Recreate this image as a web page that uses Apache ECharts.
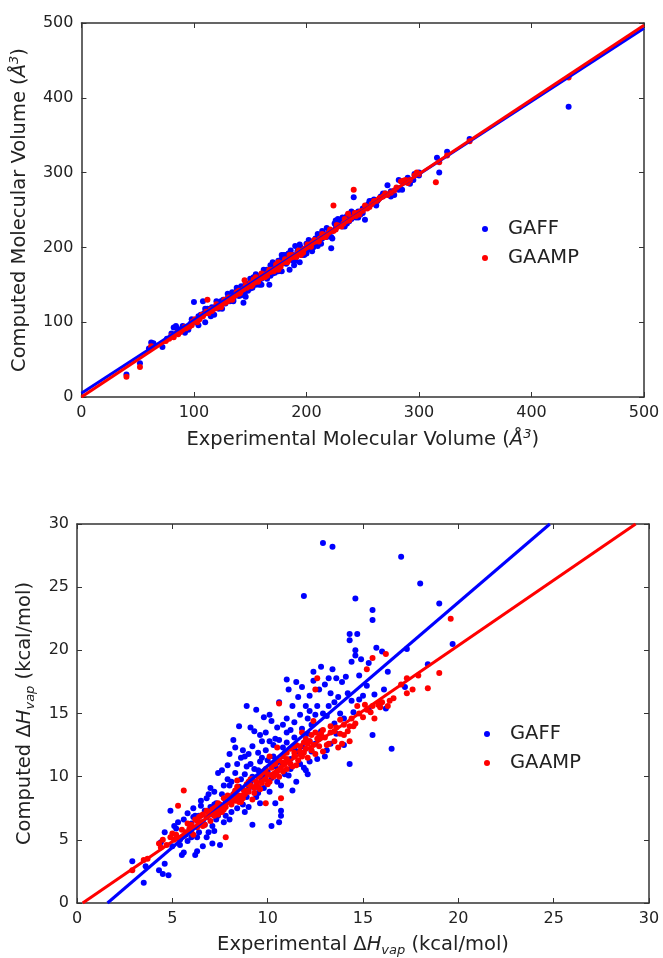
<!DOCTYPE html>
<html>
<head>
<meta charset="utf-8">
<script src="https://cdn.jsdelivr.net/npm/echarts@6/dist/echarts.min.js"></script>
<style>
html,body{margin:0;padding:0;background:#fff;}
#chart{width:663px;height:958px;}
</style>
</head>
<body>
<div id="chart"></div>
<script>
// ---------- Data: top panel (molecular volume, Å^3) ----------
var volTicks = [0, 100, 200, 300, 400, 500];
var volGaff = [[40,30],[52,45],[60,65],[62,73],[64,72],[72,67],[76,78],[80,85],[82,93],[84,95],[86,88],[88,90],[90,95],[92,92],[95,90],[97,98],[100,127],[102,100],[104,96],[106,110],[108,128],[109,112],[110,100],[112,118],[114,115],[116,120],[118,110],[120,122],[122,118],[124,128],[126,130],[128,125],[130,132],[132,128],[134,140],[136,135],[138,142],[140,135],[142,148],[144,126],[145,138],[146,134],[148,150],[150,145],[152,155],[153,160],[155,150],[156,162],[158,155],[160,158],[162,165],[164,160],[165,170],[167,150],[168,162],[170,180],[171,168],[172,175],[174,172],[175,182],[176,178],[178,168],[179,185],[180,190],[182,178],[183,186],[184,192],[185,170],[186,184],[188,190],[189,176],[190,202],[191,188],[192,195],[194,180],[195,200],[196,190],[198,196],[200,205],[202,198],[204,208],[205,195],[206,204],[208,212],[210,210],[212,216],[213,205],[214,212],[216,218],[218,214],[220,222],[222,199],[223,212],[225,232],[226,226],[228,238],[229,230],[230,236],[232,240],[234,228],[236,242],[238,235],[240,238],[241,246],[242,267],[244,240],[246,248],[248,244],[250,246],[252,237],[255,258],[258,262],[260,264],[263,262],[266,268],[270,272],[272,283],[275,275],[278,270],[282,277],[285,277],[287,288],[290,293],[292,285],[296,298],[300,300],[316,320],[318,300],[325,328],[345,345],[433,388],[135,130],[150,158],[160,150],[170,165],[178,190],[188,182],[200,192],[210,218],
  [85,92],[92,86],[98,104],[104,108],[110,118],[115,108],[120,128],[125,118],[130,138],[135,128],[138,146],[142,136],[146,152],[148,142],[152,146],[155,164],[158,150],[162,170],[165,158],[168,176],[172,166],[175,168],[178,184],[182,190],[186,196],[190,182],[194,204],[198,190],[202,210],[206,200],[210,202],[214,222],[218,226],[222,214],[226,236],[232,228],[236,232],[240,248],[246,240],[250,252],[256,262],[262,256],[268,272],[275,268],[282,290],[295,290],[300,296]];
var volGaamp = [[40,27],[52,40],[62,68],[75,75],[78,78],[80,82],[85,86],[88,87],[90,90],[93,92],[96,94],[99,101],[101,104],[105,104],[108,108],[112,130],[113,112],[116,115],[118,118],[120,119],[123,122],[125,124],[128,126],[130,128],[132,131],[135,134],[137,136],[140,138],[142,142],[144,144],[145,156],[147,146],[149,148],[150,152],[152,150],[154,153],[156,156],[158,158],[160,159],[162,161],[164,164],[166,166],[168,167],[170,170],[172,171],[174,174],[176,175],[178,178],[180,180],[182,181],[184,183],[186,186],[188,187],[190,189],[192,192],[194,194],[196,195],[198,198],[200,200],[203,202],[205,206],[208,208],[210,209],[212,212],[215,214],[218,217],[220,220],[222,222],[224,256],[226,224],[228,228],[230,229],[233,232],[235,235],[237,245],[240,240],[242,277],[244,242],[246,246],[248,248],[250,249],[254,252],[258,258],[262,262],[265,266],[268,268],[272,270],[275,273],[280,280],[284,288],[288,290],[292,290],[296,296],[300,298],[315,287],[318,314],[325,323],[345,342],[433,427],[155,160],[165,162],[175,170],[185,190],[195,190],[175,180],[160,165],[140,142],
  [82,80],[86,84],[92,94],[98,96],[103,100],[107,110],[111,114],[115,117],[120,124],[124,120],[127,130],[131,133],[134,130],[138,140],[141,139],[146,149],[151,148],[153,157],[157,154],[161,163],[163,160],[167,170],[171,168],[173,177],[177,174],[181,184],[183,180],[187,190],[191,187],[193,196],[197,193],[201,204],[204,201],[207,210],[211,208],[214,218],[217,214],[221,224],[224,222],[227,230],[231,228],[234,238],[238,236],[243,246],[247,244],[252,256],[256,254],[260,262],[264,264],[270,272],[278,276],[286,289],[290,286],[298,300]];
var volGaffFit = [[0,5],[500,493]];
var volGaampFit = [[0,0],[500,497]];

// ---------- Data: bottom panel (ΔHvap, kcal/mol) ----------
var hvapTicks = [0, 5, 10, 15, 20, 25, 30];
var hvapGaff = [[2.9,3.3],[3.5,1.6],[3.6,2.9],[4.3,2.6],[4.4,4.8],[4.5,2.3],[4.6,3.1],[4.8,2.2],[4.6,5.6],[4.9,7.3],[5.0,4.5],[5.2,5.9],[5.3,6.4],[5.4,5.0],[5.5,3.8],[5.6,4.0],[5.6,6.6],[5.7,5.4],[5.8,7.1],[5.9,5.8],[6.0,6.3],[6.1,7.5],[6.2,3.8],[6.3,4.1],[6.3,5.2],[6.4,6.9],[6.5,7.7],[6.6,4.5],[6.7,6.2],[6.8,8.3],[6.9,5.6],[7.0,7.0],[7.1,4.7],[7.2,5.7],[7.2,8.8],[7.3,6.6],[7.4,10.3],[7.5,4.6],[7.5,7.5],[7.6,10.5],[7.7,6.4],[7.8,8.0],[7.9,9.8],[8.0,6.6],[8.1,7.2],[8.2,12.9],[8.3,8.8],[8.4,11.0],[8.5,14.0],[8.5,9.2],[8.6,11.5],[8.7,7.8],[8.8,10.2],[8.9,15.6],[8.9,8.4],[9.0,11.8],[9.1,9.5],[9.2,12.4],[9.2,6.2],[9.3,10.6],[9.4,15.3],[9.5,8.7],[9.6,13.3],[9.6,11.2],[9.7,9.8],[9.8,14.7],[9.9,12.1],[10.0,10.4],[10.1,8.8],[10.2,14.4],[10.2,6.1],[10.3,11.6],[10.4,13.0],[10.5,13.9],[10.5,9.6],[10.6,15.9],[10.6,6.4],[10.7,6.9],[10.7,7.3],[10.8,12.3],[10.9,10.2],[11.0,17.7],[11.0,14.6],[11.1,16.9],[11.2,11.4],[11.3,15.6],[11.4,13.1],[11.5,17.5],[11.5,9.6],[11.6,12.0],[11.7,14.9],[11.8,17.1],[11.9,24.3],[11.9,10.7],[12.0,15.6],[12.1,13.4],[12.2,11.2],[12.3,14.1],[12.4,18.3],[12.4,17.6],[12.5,12.6],[12.6,15.6],[12.7,16.9],[12.8,18.7],[12.8,13.6],[12.9,28.5],[13.0,11.6],[13.1,14.8],[13.2,15.6],[13.2,17.8],[13.3,12.6],[13.4,28.2],[13.4,18.5],[13.5,15.9],[13.6,17.8],[13.6,13.4],[13.7,16.3],[13.9,17.5],[14.0,14.6],[14.2,16.6],[14.3,11.0],[14.3,21.3],[14.3,20.8],[14.4,19.1],[14.5,15.1],[14.6,24.1],[14.6,20.0],[14.6,19.6],[14.7,21.3],[14.8,16.1],[14.9,19.3],[15.2,17.2],[15.3,15.3],[15.5,23.2],[15.5,22.4],[15.5,13.3],[15.6,16.5],[15.7,20.2],[15.9,15.8],[16.0,19.9],[16.3,18.3],[16.2,15.4],[16.5,12.2],[17.0,27.4],[17.2,17.1],[17.3,20.1],[18.0,25.3],[18.4,18.9],[19.0,23.7],[19.7,20.5],[8.2,8.6],[8.6,8.2],[9.0,9.0],[9.4,9.2],[9.8,10.2],[10.4,10.8],[10.8,11.0],[11.2,10.6],[11.8,12.4],[12.2,12.8],[7.0,7.6],[6.6,6.4],[7.6,8.6],[9.1,13.9],[9.7,11.5],[10.1,12.8],[8.0,9.3],[8.8,11.6],[12.1,10.2],[11.4,14.3],
  [5.1,6.1],[5.4,4.6],[5.8,4.9],[6.0,5.2],[6.2,6.9],[6.4,5.6],[6.5,8.1],[6.7,7.3],[6.8,5.2],[6.9,8.6],[7.0,9.1],[7.1,6.1],[7.3,7.9],[7.4,6.9],[7.6,7.7],[7.7,9.3],[7.8,6.9],[7.9,10.9],[8.0,11.8],[8.1,9.6],[8.3,10.3],[8.4,7.5],[8.6,9.8],[8.7,12.1],[8.8,7.2],[8.9,10.8],[9.0,7.6],[9.1,11.0],[9.2,10.0],[9.3,13.6],[9.4,8.4],[9.5,11.9],[9.6,7.9],[9.7,12.8],[9.8,9.1],[9.9,13.5],[10.0,11.3],[10.1,14.9],[10.2,9.9],[10.3,12.5],[10.4,7.9],[10.5,11.1],[10.6,12.9],[10.7,9.3],[10.8,14.1],[10.9,11.9],[11.0,12.7],[11.1,10.1],[11.2,13.7],[11.3,8.9],[11.4,12.2],[11.6,16.3],[11.7,11.0],[11.8,13.8],[12.0,10.5],[12.1,14.6],[12.2,16.4],[12.3,12.0],[12.5,14.9],[12.6,11.4],[12.7,13.0],[12.9,15.0],[13.0,17.3],[13.1,12.1],[13.3,16.6],[13.5,14.2],[13.8,15.0],[14.0,12.5],[14.1,17.9],[14.4,16.0],[14.8,18.0],[15.0,16.4],[15.3,19.0],[16.1,16.9],[12.2,15.2],[11.0,13.5],[9.5,10.5],[8.3,12.3],[7.2,7.8],[6.1,6.8]];
var hvapGaamp = [[2.9,2.6],[3.5,3.4],[3.7,3.5],[4.3,4.7],[4.4,4.4],[4.5,5.0],[4.7,4.6],[4.9,5.2],[5.0,5.5],[5.2,5.4],[5.3,7.7],[5.4,5.1],[5.5,5.8],[5.6,8.9],[5.7,5.6],[5.9,5.9],[6.0,6.2],[6.1,5.4],[6.2,6.6],[6.3,6.0],[6.4,6.8],[6.5,6.4],[6.6,7.0],[6.7,6.2],[6.8,6.8],[6.9,7.2],[7.0,6.5],[7.1,7.4],[7.2,6.9],[7.3,7.6],[7.4,7.0],[7.5,7.8],[7.6,7.2],[7.7,8.3],[7.8,5.2],[7.8,7.6],[7.9,8.0],[8.0,8.3],[8.1,7.8],[8.2,8.6],[8.3,8.1],[8.4,9.2],[8.5,8.5],[8.6,8.0],[8.7,9.0],[8.8,8.6],[8.9,9.4],[9.0,8.8],[9.1,9.3],[9.2,9.8],[9.3,8.7],[9.4,9.6],[9.5,9.2],[9.6,10.1],[9.7,9.5],[9.8,10.4],[9.9,7.9],[9.9,9.8],[10.0,10.2],[10.1,9.6],[10.2,10.7],[10.3,10.0],[10.4,11.0],[10.5,10.4],[10.6,15.8],[10.6,11.3],[10.7,8.3],[10.7,10.7],[10.8,11.6],[10.9,11.0],[11.0,11.9],[11.1,11.2],[11.2,12.2],[11.3,10.8],[11.4,11.6],[11.5,12.5],[11.6,11.3],[11.7,12.0],[11.8,11.6],[11.9,12.7],[12.0,12.2],[12.1,11.5],[12.2,12.8],[12.3,13.3],[12.4,12.5],[12.5,16.9],[12.5,11.8],[12.6,17.8],[12.6,13.0],[12.7,12.4],[12.8,13.4],[12.9,12.0],[13.0,13.1],[13.2,12.6],[13.3,13.5],[13.5,12.8],[13.6,13.9],[13.7,12.3],[13.8,13.4],[14.0,14.1],[14.2,13.6],[14.3,14.0],[14.3,12.8],[14.4,14.6],[14.6,14.2],[14.8,15.0],[15.0,14.7],[15.2,18.5],[15.2,15.3],[15.4,15.1],[15.5,19.4],[15.6,14.6],[15.8,15.7],[16.0,15.9],[16.2,19.7],[16.3,15.6],[16.6,16.2],[17.0,17.3],[17.3,16.6],[17.3,17.8],[17.6,16.9],[17.9,18.0],[18.4,17.0],[19.0,18.2],[19.6,22.5],[9.0,9.6],[9.6,9.0],[10.2,10.1],[10.8,10.4],[11.4,12.4],[8.4,8.4],[7.4,7.9],[6.5,6.9],[11.0,10.6],[12.0,13.0],
  [5.1,5.0],[5.6,5.3],[5.8,6.3],[6.0,5.6],[6.3,6.5],[6.6,6.1],[6.8,7.3],[7.0,7.1],[7.2,7.5],[7.5,7.2],[7.7,7.4],[7.9,8.5],[8.1,8.4],[8.3,8.9],[8.5,8.0],[8.7,8.3],[8.9,8.9],[9.1,9.8],[9.3,9.1],[9.5,10.0],[9.7,10.3],[9.9,10.6],[10.0,9.4],[10.2,11.0],[10.4,10.2],[10.6,10.0],[10.8,11.1],[11.0,11.4],[11.2,11.0],[11.4,11.9],[11.5,10.9],[11.7,12.4],[11.9,11.9],[12.1,12.6],[12.3,12.1],[12.5,13.5],[12.7,13.2],[12.9,13.7],[13.1,12.5],[13.3,14.0],[13.5,13.6],[13.8,14.5],[14.0,13.3],[14.5,14.0],[14.7,15.6],[15.1,15.7],[15.5,15.6],[15.9,15.5],[16.4,16.0],[13.9,12.6],[11.8,13.5],[10.1,11.6],[9.2,8.2],[12.4,14.4],[10.5,12.3],[8.4,9.7]];
var hvapGaffFit = [[1.6,0],[24.8,30]];
var hvapGaampFit = [[0.3,0],[29.3,30]];

var FONT = 'DejaVu Sans';
var AX = '#333';
var BLUE = '#0000ff', RED = '#ff0000';

function xAxisPair(gi, min, max, interval, name, rich) {
  var base = {
    gridIndex: gi, type: 'value', min: min, max: max, interval: interval,
    axisLine: {show: true, onZero: false, lineStyle: {color: AX, width: 1.5}},
    axisTick: {show: true, inside: true, length: 5, lineStyle: {color: AX, width: 1}},
    splitLine: {show: false}
  };
  var bottom = Object.assign({}, base, {
    position: 'bottom',
    axisLabel: {show: true, margin: 8, fontFamily: FONT, fontSize: 16, color: '#222'},
    name: name, nameLocation: 'middle', nameGap: 31,
    nameTextStyle: {fontFamily: FONT, fontSize: 19.5, color: '#222', lineHeight: 24, rich: rich}
  });
  var top = Object.assign({}, base, {position: 'top', axisLabel: {show: false}});
  return [bottom, top];
}
function yAxisPair(gi, min, max, interval, name, rich, gap) {
  var base = {
    gridIndex: gi, type: 'value', min: min, max: max, interval: interval,
    axisLine: {show: true, onZero: false, lineStyle: {color: AX, width: 1.5}},
    axisTick: {show: true, inside: true, length: 5, lineStyle: {color: AX, width: 1}},
    splitLine: {show: false}
  };
  var left = Object.assign({}, base, {
    position: 'left',
    axisLabel: {show: true, margin: 8, fontFamily: FONT, fontSize: 16, color: '#222'},
    name: name, nameLocation: 'middle', nameGap: gap, nameRotate: 90,
    nameTextStyle: {fontFamily: FONT, fontSize: 19.5, color: '#222', lineHeight: 24, rich: rich}
  });
  var right = Object.assign({}, base, {position: 'right', axisLabel: {show: false}});
  return [left, right];
}

var richVol = {
  i: {fontFamily: FONT, fontStyle: 'italic', fontSize: 19.5, color: '#222', lineHeight: 24},
  sup: {fontFamily: FONT, fontStyle: 'italic', fontSize: 13, color: '#222', verticalAlign: 'top', lineHeight: 24}
};
var richH = {
  d: {fontFamily: FONT, fontSize: 19.5, color: '#222', lineHeight: 24},
  i: {fontFamily: FONT, fontStyle: 'italic', fontSize: 19.5, color: '#222', lineHeight: 24},
  sub: {fontFamily: FONT, fontStyle: 'italic', fontSize: 13, color: '#222', verticalAlign: 'bottom', lineHeight: 24}
};

var xa0 = xAxisPair(0, volTicks[0], volTicks[volTicks.length-1], 100, 'Experimental Molecular Volume ({i|Å}{sup|3})', richVol);
var ya0 = yAxisPair(0, volTicks[0], volTicks[volTicks.length-1], 100, 'Computed Molecular Volume ({i|Å}{sup|3})', richVol, 47);
var xa1 = xAxisPair(1, hvapTicks[0], hvapTicks[hvapTicks.length-1], 5, 'Experimental {d|Δ}{i|H}{sub|vap} (kcal/mol)', richH);
var ya1 = yAxisPair(1, hvapTicks[0], hvapTicks[hvapTicks.length-1], 5, 'Computed {d|Δ}{i|H}{sub|vap} (kcal/mol)', richH, 40);
xa1[0].nameGap = 30;

function scatter(name, data, color, xi, yi) {
  return {name: name, type: 'scatter', data: data, xAxisIndex: xi, yAxisIndex: yi,
    symbol: 'circle', symbolSize: 6, itemStyle: {color: color, opacity: 1},
    emphasis: {disabled: true}, animation: false, z: 2};
}
function fit(name, data, color, xi, yi, z) {
  return {name: name, type: 'line', data: data, xAxisIndex: xi, yAxisIndex: yi,
    showSymbol: false, symbol: 'none', clip: true,
    lineStyle: {color: color, width: 3}, itemStyle: {color: color},
    emphasis: {disabled: true}, animation: false, z: z, legendHoverLink: false, tooltip: {show: false}};
}

var legendCommon = {
  orient: 'vertical', icon: 'circle', itemWidth: 36, itemHeight: 6, itemGap: 7,
  textStyle: {fontFamily: FONT, fontSize: 19.5, color: '#222', lineHeight: 22},
  selectedMode: false, data: ['GAFF', 'GAAMP']
};

var option = {
  backgroundColor: '#fff',
  animation: false,
  grid: [
    {left: 81, top: 23, width: 563, height: 374, containLabel: false},
    {left: 77, top: 524, width: 572, height: 380, containLabel: false}
  ],
  xAxis: [xa0[0], xa0[1], xa1[0], xa1[1]],
  yAxis: [ya0[0], ya0[1], ya1[0], ya1[1]],
  legend: [
    Object.assign({}, legendCommon, {left: 477, top: 213}),
    Object.assign({}, legendCommon, {left: 479, top: 718})
  ],
  series: [
    scatter('GAFF', volGaff, BLUE, 0, 0),
    scatter('GAAMP', volGaamp, RED, 0, 0),
    fit('GAFF fit', volGaffFit, BLUE, 0, 0, 3),
    fit('GAAMP fit', volGaampFit, RED, 0, 0, 4),
    scatter('GAFF', hvapGaff, BLUE, 2, 2),
    scatter('GAAMP', hvapGaamp, RED, 2, 2),
    fit('GAFF fit', hvapGaffFit, BLUE, 2, 2, 3),
    fit('GAAMP fit', hvapGaampFit, RED, 2, 2, 4)
  ]
};

var chart = echarts.init(document.getElementById('chart'), null, {renderer: 'canvas'});
chart.setOption(option);
</script>
</body>
</html>
